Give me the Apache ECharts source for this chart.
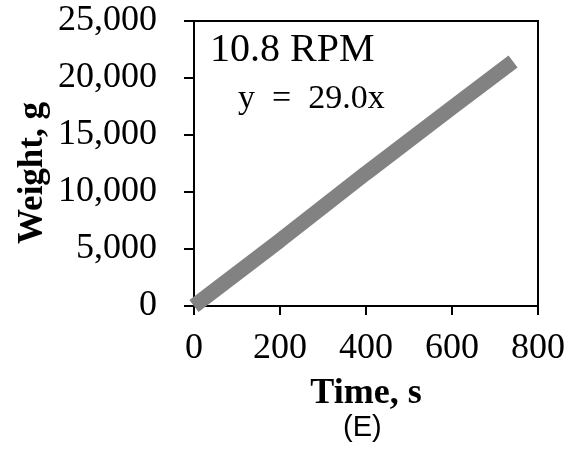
<!DOCTYPE html>
<html>
<head>
<meta charset="utf-8">
<script src="https://cdn.jsdelivr.net/npm/echarts@6/dist/echarts.min.js"></script>
<style>
  html, body { margin: 0; padding: 0; background: #fff; }
  #chart { width: 571px; height: 457px; }
</style>
</head>
<body>
<div id="chart"></div>
<script>
// Time (s) and measured weight (g) along the run
const timeS = [0, 200, 400, 600, 742];
const weightG = [0, 5750, 11650, 17400, 21450];

const xTicks = [0, 200, 400, 600, 800];
const yTicks = [0, 5000, 10000, 15000, 20000, 25000];

const speedLabel = '10.8 RPM';
const fitLabel = 'y\u2002=\u200229.0x';
const panelLabel = '(E)';
const xName = 'Time, s';
const yName = 'Weight, g';

const serif = '"Liberation Serif", "Times New Roman", serif';

const chart = echarts.init(document.getElementById('chart'), null, { renderer: 'canvas' });

chart.setOption({
  backgroundColor: '#fff',
  animation: false,
  grid: {
    left: 194, right: 33, top: 21, bottom: 151,
    show: true, borderColor: '#000', borderWidth: 2, backgroundColor: 'transparent'
  },
  xAxis: {
    type: 'value',
    min: xTicks[0], max: xTicks[xTicks.length - 1], interval: 200,
    name: xName,
    nameLocation: 'middle',
    nameGap: 70,
    nameTextStyle: { fontFamily: serif, fontWeight: 'bold', fontSize: 36, color: '#000' },
    axisLine: { show: true, lineStyle: { color: '#000', width: 2 } },
    axisTick: { show: true, inside: false, length: 9, lineStyle: { color: '#000', width: 2 } },
    axisLabel: { fontFamily: serif, fontSize: 36, color: '#000', margin: 25 },
    splitLine: { show: false }
  },
  yAxis: {
    type: 'value',
    min: yTicks[0], max: yTicks[yTicks.length - 1], interval: 5000,
    axisLine: { show: true, lineStyle: { color: '#000', width: 2 } },
    axisTick: { show: true, inside: false, length: 10, lineStyle: { color: '#000', width: 2 } },
    axisLabel: {
      fontFamily: serif, fontSize: 36, color: '#000', margin: 37,
      formatter: v => v.toLocaleString('en-US')
    },
    splitLine: { show: false }
  },
  graphic: [
    { type: 'text', x: 33, y: 173, rotation: Math.PI / 2,
      style: { text: yName, font: 'bold 35px ' + serif, fill: '#000',
               align: 'center', verticalAlign: 'middle' } },
    { type: 'text', left: 210, top: 30,
      style: { text: speedLabel, font: '40px ' + serif, fill: '#000' } },
    { type: 'text', left: 238, top: 82,
      style: { text: fitLabel, font: '34px ' + serif, fill: '#000' } },
    { type: 'text', left: 343, top: 413,
      style: { text: panelLabel, font: '29px "Liberation Sans", Arial, sans-serif', fill: '#000' } }
  ],
  series: [{
    type: 'line',
    data: timeS.map((t, i) => [t, weightG[i]]),
    showSymbol: false,
    symbol: 'none',
    clip: false,
    lineStyle: { color: '#828282', width: 15, cap: 'butt' }
  }]
});
</script>
</body>
</html>
